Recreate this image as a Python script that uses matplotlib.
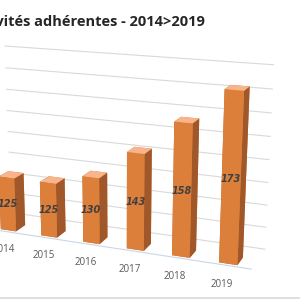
import matplotlib.pyplot as plt
from matplotlib.lines import Line2D
import numpy as np

years = ['2014', '2015', '2016', '2017', '2018', '2019']
values = [125, 125, 130, 143, 158, 173]
grid_values = [100, 110, 120, 130, 140, 150, 160, 170, 180]
title = 'Activités adhérentes - 2014>2019'

fig = plt.figure(figsize=(3, 3), dpi=100)
ax = fig.add_axes([-0.235, -0.08, 1.25, 1.12], projection='3d')
ax.set_proj_type('persp', focal_length=0.5)
ax.view_init(elev=16, azim=-68)
ax.set_box_aspect((4, 0.75, 2.6))
ax.set_axis_off()

x = np.arange(len(years))
bw, bd = 0.38, 0.38
base = grid_values[0]
y0 = 0.08

# back wall gridlines
for g in grid_values:
    ax.plot([-0.5, len(years) - 0.5], [1, 1], [g, g], color='#D9D9D9', lw=0.8)
# floor front edge
ax.plot([-0.5, len(years) - 0.5], [0, 0], [base, base], color='#C9D6E8', lw=0.8)

faces = []
for _ in years:
    # bottom, top, front, back, left, right
    faces += ['#C06A30', '#F8B48A', '#DC7F3A', '#DC7F3A', '#B8652C', '#A0582A']
ax.bar3d(x - bw / 2, np.full(len(x), y0), np.full(len(x), base), bw, bd,
         np.array(values) - base, color=faces, shade=False, edgecolor='none')

for xi, v, yr in zip(x, values, years):
    ax.text(xi, y0, (v + base) / 2, str(v), ha='center', va='center',
            fontsize=7, fontstyle='italic', fontweight='bold', color='#404040')
    ax.text(xi - 0.1, 0.02, base - 9, yr, ha='center', va='center',
            fontsize=7, color='#595959', family='Open Sans')

ax.set_xlim(-0.5, len(years) - 0.5)
ax.set_ylim(0, 1)
ax.set_zlim(base, grid_values[-1])

fig.text(0.683, 0.925, title, ha='right', va='center', fontsize=10.5,
         fontweight='bold', color='#262626', family='Open Sans')
fig.add_artist(Line2D([0, 1], [0.006, 0.006], color='#D9D9D9', lw=1.2))

fig.savefig('out.png', dpi=100)
